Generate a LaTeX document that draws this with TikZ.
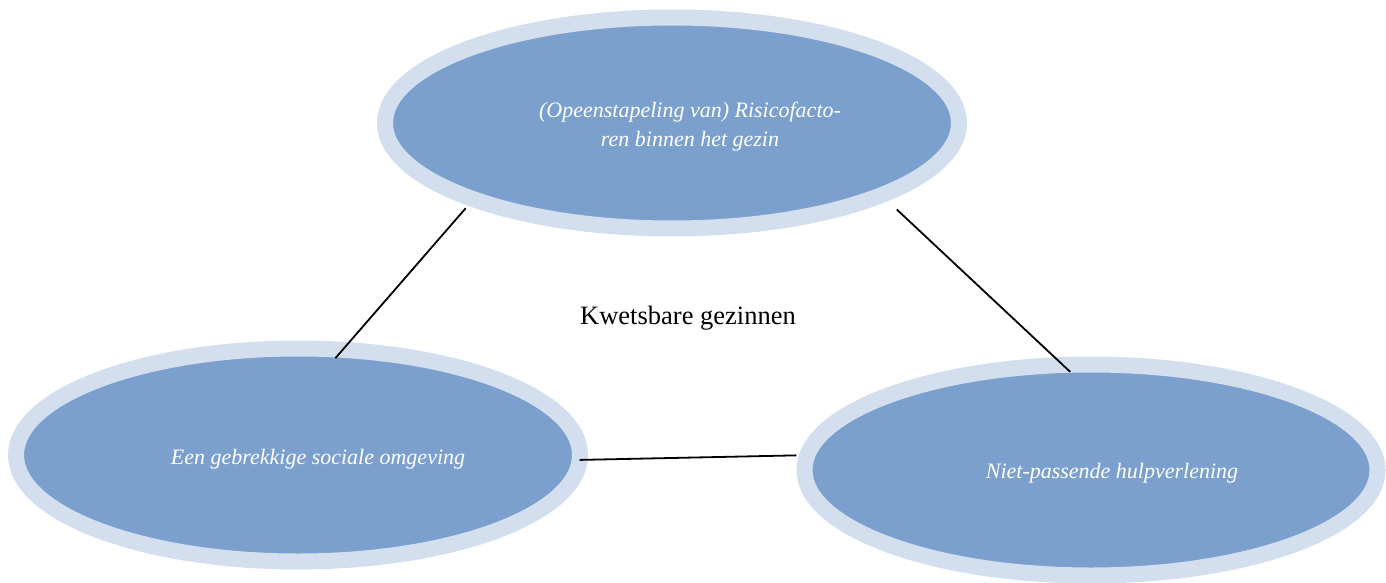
\documentclass[tikz,border=0pt]{standalone}
\usepackage{fontspec}
\setmainfont{Liberation Serif}
\usetikzlibrary{shapes.geometric}
\definecolor{gezinFill}{HTML}{7BA0CD}
\definecolor{gezinRing}{HTML}{D3DFEE}

\begin{document}
\begin{tikzpicture}[x=1pt,y=-1pt,
  factor/.style={ellipse,draw=gezinRing,fill=gezinFill,line width=16pt,inner sep=0pt,outer sep=0pt},
  factortext/.style={text=white,align=center,font=\fontsize{22}{29}\selectfont\itshape},
  link/.style={black,line width=1.8pt}]
\useasboundingbox (0,0) rectangle (1386,583);

\node[factor,minimum width=574pt,minimum height=211pt] (risico) at (672,123) {};
\node[factor,minimum width=564pt,minimum height=213pt] (omgeving) at (298,455) {};
\node[factor,minimum width=573pt,minimum height=211pt] (hulp) at (1091,470) {};

\node[factortext] (risicotxt) at (690,127) {(Opeenstapeling van) Risicofacto-\\ren binnen het gezin};
\node[factortext] (omgevingtxt) at (318,459) {Een gebrekkige sociale omgeving};
\node[factortext] (hulptxt) at (1112,473) {Niet-passende hulpverlening};

\node[font=\fontsize{26.5}{30}\selectfont] (kwets) at (688,318) {Kwetsbare gezinnen};

\draw[link,shorten <=12pt,shorten >=-11pt] (risico.201) -- (omgeving.67);
\draw[link,shorten <=21pt,shorten >=-10pt] (risico.341) -- (hulp.105);
\draw[link,shorten >=11pt] (omgeving.359) -- (hulp.177.8);
\end{tikzpicture}
\end{document}
